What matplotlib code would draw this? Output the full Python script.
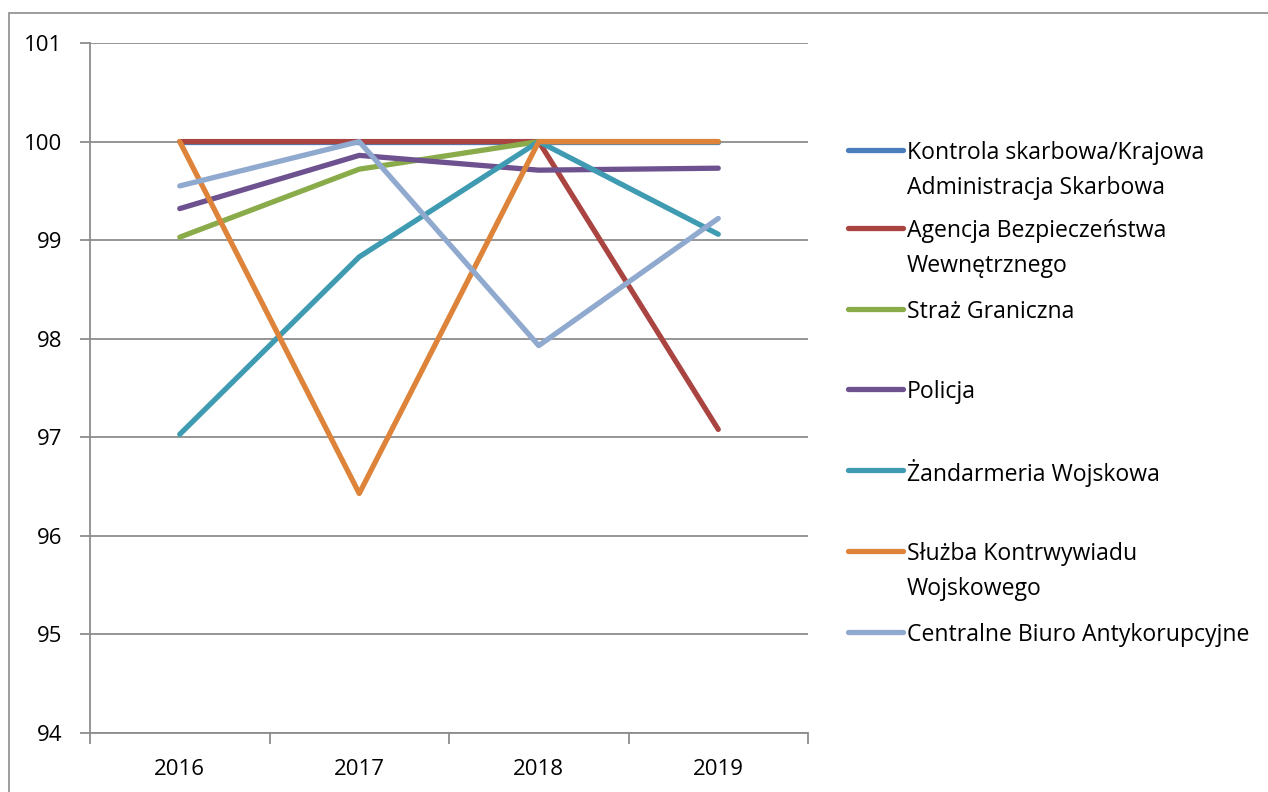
import matplotlib.pyplot as plt
from matplotlib.lines import Line2D
from matplotlib.patches import Rectangle

years = ["2016", "2017", "2018", "2019"]

series_names = [
    "Kontrola skarbowa/Krajowa\nAdministracja Skarbowa",
    "Agencja Bezpieczeństwa\nWewnętrznego",
    "Straż Graniczna",
    "Policja",
    "Żandarmeria Wojskowa",
    "Służba Kontrwywiadu\nWojskowego",
    "Centralne Biuro Antykorupcyjne",
]

kas = [100.0, 100.0, 100.0, 100.0]
abw = [100.0, 100.0, 100.0, 97.08]
sg = [99.03, 99.72, 100.0, 100.0]
policja = [99.32, 99.86, 99.71, 99.73]
zw = [97.03, 98.83, 100.0, 99.06]
skw = [100.0, 96.43, 100.0, 100.0]
cba = [99.55, 100.0, 97.93, 99.22]

series_values = [kas, abw, sg, policja, zw, skw, cba]
colors = ["#4A7EBB", "#A94441", "#8AAB4A", "#6E5290", "#3E9BB2", "#DD843A", "#90A9CF"]

plt.rcParams['font.family'] = ['Open Sans', 'DejaVu Sans']

W, H = 1268, 792
fig = plt.figure(figsize=(W / 100, H / 100), dpi=100)

def px(x, y):
    return x / W, 1 - y / H

# outer border
fig.add_artist(Rectangle(px(9, 900), (1400 - 9) / W, (900 - 13) / H,
                         transform=fig.transFigure, fill=False,
                         edgecolor="#8c8c8c", linewidth=1.2))

ax = fig.add_axes([90 / W, 1 - 733 / H, (808 - 90) / W, (733 - 43) / H])
xs = range(len(years))
for vals, c in zip(series_values, colors):
    ax.plot(xs, vals, color=c, linewidth=3.8, solid_capstyle='round',
            solid_joinstyle='round', zorder=3)

ax.set_xlim(-0.5, len(years) - 0.5)
ax.set_ylim(94, 101)
ax.set_yticks(range(94, 102))
ax.yaxis.grid(True, color="#8c8c8c", linewidth=1.3)
ax.set_axisbelow(True)
ax.set_xticks(list(xs))
ax.set_xticklabels(years)
ax.set_xticks([i - 0.5 for i in range(len(years) + 1)], minor=True)
ax.tick_params(axis='x', which='major', length=0, pad=19, labelsize=16)
ax.tick_params(axis='x', which='minor', length=8, width=1.3, color="#8c8c8c")
ax.tick_params(axis='y', length=7, width=1.3, color="#8c8c8c", pad=13, labelsize=16)
for s in ["top", "right"]:
    ax.spines[s].set_visible(False)
for s in ["left", "bottom"]:
    ax.spines[s].set_color("#8c8c8c")
    ax.spines[s].set_linewidth(1.3)

# legend
entry_y = [150, 228, 309, 389, 470, 551, 632]
for name, c, y in zip(series_names, colors, entry_y):
    fig.add_artist(Line2D([848 / W, 903 / W], [1 - y / H, 1 - y / H],
                          transform=fig.transFigure, color=c, linewidth=3.8,
                          solid_capstyle='round'))
    for i, part in enumerate(name.split("\n")):
        fig.text(907 / W, 1 - (y + 35 * i) / H, part, fontsize=16.6,
                 ha='left', va='center_baseline')

fig.savefig("out.png", dpi=100)
